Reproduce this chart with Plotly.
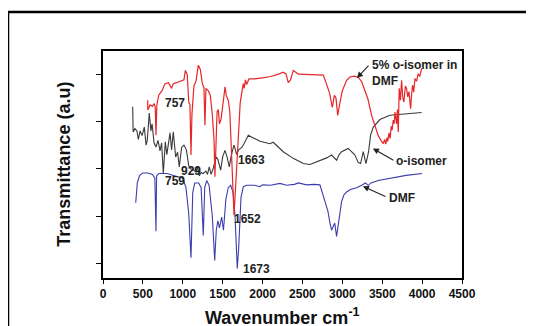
import plotly.graph_objects as go

# ---- data (wavenumber, transmittance a.u.) ----
red_x = [560, 562, 590, 620, 640, 655, 664, 675, 700, 740, 777, 820, 860, 880, 920, 980, 1015, 1032, 1055, 1075,
         1090, 1103, 1115, 1140, 1165, 1195, 1220, 1245, 1265, 1278, 1290, 1320, 1345, 1370, 1392, 1403, 1418, 1430,
         1445, 1460, 1480, 1500, 1530, 1545, 1570, 1590, 1615, 1642, 1665, 1690, 1720, 1758, 1770, 1785, 1800, 1830,
         1900, 2000, 2100, 2200, 2260, 2295, 2322, 2350, 2385, 2450, 2550, 2650, 2761, 2800, 2840, 2875, 2900, 2920,
         2942, 2970, 3000, 3054, 3095, 3150, 3200, 3240, 3280, 3320, 3367, 3410, 3450, 3492, 3513, 3530, 3545, 3560,
         3570, 3585, 3600, 3612, 3625, 3638, 3650, 3659, 3670, 3680, 3690, 3701, 3713, 3728, 3743, 3758, 3772, 3790,
         3805, 3820, 3835, 3846, 3856, 3870, 3881, 3895, 3910, 3930, 3951, 3970, 3994]
red_y = [4.45, 4.24, 4.35, 4.32, 4.38, 4.30, 3.71, 4.35, 4.56, 4.65, 4.80, 4.82, 4.70, 4.80, 4.82, 4.85, 4.88, 5.08,
         5.00, 4.41, 4.35, 3.29, 4.15, 4.75, 4.85, 5.19, 5.10, 4.80, 4.72, 3.92, 4.70, 4.65, 4.55, 4.15, 3.60, 2.83,
         3.90, 4.20, 4.25, 3.95, 4.05, 4.35, 4.73, 4.55, 4.45, 4.20, 3.20, 2.02, 2.70, 3.60, 4.40, 4.80, 4.70, 4.88,
         4.78, 4.90, 4.90, 4.92, 4.95, 5.00, 5.04, 5.00, 4.82, 4.88, 5.08, 5.00, 4.99, 4.99, 4.98, 4.80, 4.60, 4.30,
         4.55, 4.50, 4.13, 4.40, 4.65, 4.87, 4.94, 4.96, 4.93, 4.85, 4.68, 4.48, 4.13, 3.90, 3.70, 3.58, 3.53, 3.62,
         3.52, 3.66, 3.58, 3.76, 3.64, 3.90, 3.82, 4.03, 3.95, 4.20, 4.05, 3.95, 4.25, 3.78, 4.70, 4.45, 4.87, 4.50,
         4.41, 4.75, 4.70, 4.52, 4.63, 4.40, 4.27, 4.60, 4.77, 4.62, 4.91, 4.85, 5.01, 4.95, 5.12]

black_x = [372, 378, 400, 425, 443, 465, 490, 518, 540, 555, 580, 600, 615, 640, 664, 690, 715, 735, 756, 781, 800,
           840, 860, 881, 911, 935, 956, 985, 1015, 1045, 1074, 1100, 1130, 1165, 1185, 1207, 1230, 1255, 1290, 1310,
           1332, 1355, 1380, 1416, 1440, 1475, 1500, 1529, 1555, 1583, 1610, 1642, 1660, 1675, 1700, 1740, 1767, 1821,
           1967, 2093, 2134, 2259, 2385, 2510, 2594, 2678, 2803, 2866, 2900, 2928, 2960, 2991, 3074, 3158, 3200, 3229,
           3262, 3296, 3329, 3354, 3388, 3471, 3596, 3805, 3994]
black_y = [4.31, 3.78, 3.85, 3.80, 3.62, 3.80, 3.70, 3.88, 3.50, 3.60, 4.18, 3.80, 3.95, 3.55, 3.46, 3.60, 3.38, 3.55,
           2.90, 3.57, 3.30, 3.76, 3.40, 3.78, 3.25, 3.35, 3.04, 3.45, 3.50, 3.40, 3.07, 3.00, 2.98, 2.93, 3.04, 2.85,
           2.92, 2.90, 2.95, 2.88, 3.04, 2.88, 3.00, 3.25, 3.20, 2.97, 3.25, 3.39, 3.25, 3.04, 3.30, 3.50, 3.40, 3.30,
           3.40, 3.45, 3.53, 3.71, 3.58, 3.53, 3.56, 3.36, 3.22, 3.11, 3.09, 3.14, 3.23, 3.29, 3.22, 3.18, 3.30, 3.36,
           3.43, 3.29, 3.13, 3.11, 3.36, 3.11, 3.36, 3.71, 3.88, 4.04, 4.13, 4.16, 4.19]

blue_x = [410, 430, 460, 500, 560, 620, 650, 664, 672, 700, 800, 880, 950, 1000, 1040, 1061, 1075, 1103, 1125, 1150,
          1200, 1230, 1257, 1275, 1300, 1330, 1370, 1400, 1420, 1440, 1460, 1487, 1510, 1540, 1570, 1600, 1630, 1655,
          1683, 1700, 1730, 1760, 1800, 1900, 1967, 2000, 2100, 2218, 2300, 2400, 2450, 2550, 2650, 2719, 2753, 2790,
          2820, 2845, 2866, 2890, 2905, 2928, 2960, 2990, 3020, 3054, 3100, 3180, 3242, 3290, 3325, 3360, 3450, 3600,
          3800, 4000]
blue_y = [2.28, 2.70, 2.86, 2.91, 2.91, 2.88, 2.80, 1.68, 2.85, 2.90, 2.90, 2.86, 2.84, 2.80, 2.60, 2.19, 2.05, 1.12,
          2.50, 2.70, 2.70, 2.60, 1.59, 2.60, 2.75, 2.65, 2.00, 1.06, 1.70, 1.90, 1.75, 1.98, 1.70, 2.35, 2.60, 2.65,
          2.50, 2.00, 0.89, 1.30, 2.40, 2.62, 2.65, 2.65, 2.62, 2.66, 2.65, 2.69, 2.65, 2.67, 2.70, 2.66, 2.67, 2.66,
          2.48, 2.30, 2.10, 1.85, 1.70, 1.80, 1.85, 1.57, 1.95, 2.30, 2.45, 2.51, 2.56, 2.60, 2.65, 2.70, 2.65, 2.70,
          2.75, 2.80, 2.86, 2.90]

x_ticks = [0, 500, 1000, 1500, 2000, 2500, 3000, 3500, 4000, 4500]
y_ticks = [1, 2, 3, 4, 5]

peak_labels = ["757", "759", "929", "1663", "1652", "1673"]
peak_label_x = [902, 902, 1103, 1867, 1817, 1930]
peak_label_y = [4.39, 2.74, 2.95, 3.18, 1.93, 0.89]

FONT = "Liberation Sans, Arial, sans-serif"

fig = go.Figure()
fig.add_trace(go.Scatter(x=black_x, y=black_y, mode="lines", line=dict(color="#3a3a3a", width=1.1),
                         showlegend=False, hoverinfo="skip"))
fig.add_trace(go.Scatter(x=blue_x, y=blue_y, mode="lines", line=dict(color="#3c3cae", width=1.1),
                         showlegend=False, hoverinfo="skip"))
fig.add_trace(go.Scatter(x=red_x, y=red_y, mode="lines", line=dict(color="#e8262a", width=1.2),
                         showlegend=False, hoverinfo="skip"))

annotations = []
for t, ax_, ay_ in zip(peak_labels, peak_label_x, peak_label_y):
    annotations.append(dict(x=ax_, y=ay_, xref="x", yref="y", text=t, showarrow=False,
                            font=dict(family=FONT, size=12, color="#222", weight="bold")))

# curve labels
annotations.append(dict(x=3346, y=5.02, xref="x", yref="y", text="5% o-isomer in<br>DMF", showarrow=False,
                        xanchor="left", align="left",
                        font=dict(family=FONT, size=12, color="#222", weight="bold")))
annotations.append(dict(x=3997, y=3.17, xref="x", yref="y", text="o-isomer", showarrow=False,
                        font=dict(family=FONT, size=12, color="#222", weight="bold")))
annotations.append(dict(x=3747, y=2.39, xref="x", yref="y", text="DMF", showarrow=False,
                        font=dict(family=FONT, size=12, color="#222", weight="bold")))

# pointer arrows
for hx, hy, tx, ty in [(3183, 4.92, 3346, 5.21), (3383, 3.43, 3659, 3.16), (3258, 2.63, 3559, 2.40)]:
    annotations.append(dict(x=hx, y=hy, ax=tx, ay=ty, xref="x", yref="y", axref="x", ayref="y", text="",
                            showarrow=True, arrowhead=2, arrowsize=1.1, arrowwidth=1.1, arrowcolor="#222"))

# axis titles
annotations.append(dict(x=-0.111, y=0.5, xref="paper", yref="paper", text="Transmittance (a.u)",
                        textangle=-90, showarrow=False, xanchor="center", yanchor="middle",
                        font=dict(family=FONT, size=18, color="#111", weight="bold")))
annotations.append(dict(x=0.5, y=-0.168, xref="paper", yref="paper", text="Wavenumber cm<sup>-1</sup>",
                        showarrow=False, xanchor="center", yanchor="middle",
                        font=dict(family=FONT, size=18, color="#111", weight="bold")))

# page body has an 8px default margin, so the figure is 8px smaller than the window
fig.update_layout(
    width=526, height=318, autosize=False,
    margin=dict(l=95, r=72, t=43, b=48, pad=0),
    paper_bgcolor="white", plot_bgcolor="white",
    annotations=annotations,
    shapes=[dict(type="rect", xref="paper", yref="paper", x0=-0.2646, x1=1.25, y0=-0.30, y1=1.1718,
                 line=dict(color="black", width=2.5), fillcolor="rgba(0,0,0,0)", layer="above")],
    xaxis=dict(range=[0, 4500], tickvals=x_ticks, ticks="outside", ticklen=4, tickwidth=1.2, tickcolor="black",
               showline=True, linecolor="black", linewidth=1.5, mirror=True, showgrid=False, zeroline=False,
               tickfont=dict(family=FONT, size=12, color="#111", weight="bold")),
    yaxis=dict(range=[0.69, 5.49], tickvals=y_ticks, showticklabels=False, ticks="outside", ticklen=5,
               tickwidth=1.2, tickcolor="black", showline=True, linecolor="black", linewidth=1.5, mirror=True,
               showgrid=False, zeroline=False),
)

fig.write_html("out.html")
